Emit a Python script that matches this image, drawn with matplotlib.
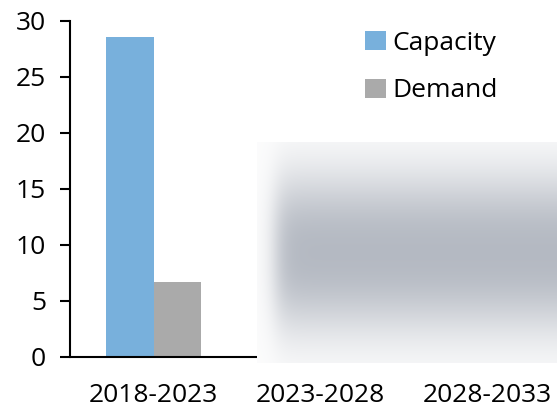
import numpy as np
import matplotlib
matplotlib.use("Agg")
import matplotlib.pyplot as plt

plt.rcParams['font.family'] = ['Open Sans', 'DejaVu Sans']

categories = ['2018-2023', '2023-2028', '2028-2033']
capacity = [28.6, np.nan, np.nan]
demand = [6.7, np.nan, np.nan]
series_names = ['Capacity', 'Demand']
y_ticks = [0, 5, 10, 15, 20, 25, 30]

cap_color = '#78b0dc'
dem_color = '#aaaaaa'

fig = plt.figure(figsize=(5.57, 4.09), dpi=100)
ax = fig.add_axes([70 / 557, 52 / 409, 487 / 557, 336 / 409])

x = np.arange(len(categories))
w = 0.287
ax.bar(x - w / 2, capacity, width=w, color=cap_color, label=series_names[0])
ax.bar(x + w / 2, demand, width=w, color=dem_color, label=series_names[1])

ax.set_xlim(-0.5, 2.416)
ax.set_ylim(0, 30)
ax.set_yticks(y_ticks)
ax.set_xticks(x)
ax.set_xticklabels(categories)
ax.tick_params(axis='y', length=7.2, width=1.5, pad=10, labelsize=19)
ax.tick_params(axis='x', length=0, pad=19, labelsize=19)
for s in ['top', 'right']:
    ax.spines[s].set_visible(False)
for s in ['left', 'bottom']:
    ax.spines[s].set_linewidth(1.5)
ax.spines['bottom'].set_capstyle('butt')

ax.legend(loc='upper left', bbox_to_anchor=(365 / 557, 1 - 31 / 409),
          bbox_transform=fig.transFigure, frameon=False, fontsize=19,
          handlelength=0.8, handleheight=0.72, handletextpad=0.25,
          labelspacing=0.85, borderpad=0, borderaxespad=0)

# blurred overlay covering the later periods
ov = fig.add_axes([257 / 557, 46 / 409, 300 / 557, 221 / 409])
ny, nx = 221, 300
yy = np.linspace(0, 1, ny)[:, None]
xx = np.arange(nx)[None, :]
yprof = np.exp(-np.abs((yy - 0.5) / 0.36) ** 2.4)
xprof = 1 / (1 + np.exp(-(xx - 18) / 6.0))
a = 0.95 * yprof * xprof + 0.04
gray = np.array([180, 185, 194]) / 255.0
img = np.ones((ny, nx, 3)) * (1 - a[..., None]) + gray * a[..., None]
ov.imshow(img, aspect='auto', interpolation='bilinear')
ov.axis('off')

fig.savefig('out.png', dpi=100)
